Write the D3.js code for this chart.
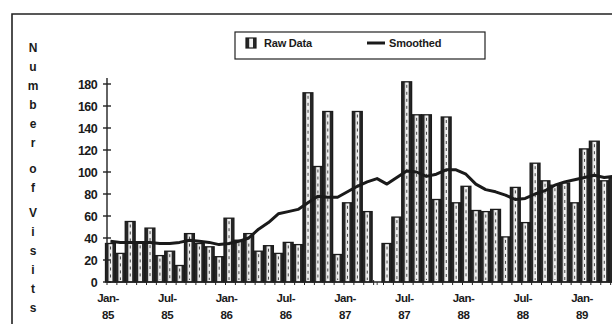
<!DOCTYPE html>
<html>
<head>
<meta charset="utf-8">
<script src="https://cdn.jsdelivr.net/npm/d3@7"></script>
<style>
  body { margin: 0; background: #fff; }
  svg { display: block; font-family: "Liberation Sans", Arial, sans-serif; font-weight: bold; }
</style>
</head>
<body>
<div id="chart"></div>
<script>
// monthly categories, Jan-85 .. Apr-89
const years = ["85", "86", "87", "88", "89"];
const monthNames = ["Jan", "Feb", "Mar", "Apr", "May", "Jun", "Jul", "Aug", "Sep", "Oct", "Nov", "Dec"];
const months = [];
years.forEach(y => monthNames.forEach(m => months.push(m + "-" + y)));
months.splice(52);

// raw visit counts
const rawData = [
  35, 26, 55, 36, 49, 24, 28, 15, 44, 35, 32, 23,
  58, 38, 44, 28, 33, 26, 36, 34, 172, 105, 155, 25,
  72, 155, 64, 0, 35, 59, 182, 152, 152, 75, 150, 72,
  87, 65, 64, 66, 41, 86, 54, 108, 92, 88, 90, 72,
  121, 128, 92, 95
];

// smoothed series
const smoothed = [
  37, 36, 36, 36, 36, 35, 35, 36, 38, 37, 36, 34,
  35, 37, 40, 48, 54, 62, 64, 66, 72, 78, 77, 77,
  82, 87, 91, 94, 89, 95, 101, 100, 96, 98, 102, 102,
  98, 89, 84, 82, 79, 75, 76, 80, 83, 88, 91, 93,
  95, 97, 95, 96
];

const tickMonths = ["Jan-85", "Jul-85", "Jan-86", "Jul-86", "Jan-87", "Jul-87", "Jan-88", "Jul-88", "Jan-89"];
const yTicks = [0, 20, 40, 60, 80, 100, 120, 140, 160, 180];
const yTitle = "Number of Visits";

const width = 612, height = 324;

const svg = d3.select("#chart").append("svg")
  .attr("width", width)
  .attr("height", height);

// bar fill: dark sides, white middle strip with a dashed line
const defs = svg.append("defs");
const pat = defs.append("pattern")
  .attr("id", "rawFill")
  .attr("patternUnits", "objectBoundingBox")
  .attr("patternContentUnits", "objectBoundingBox")
  .attr("width", 1).attr("height", 1);
pat.append("rect").attr("width", 1).attr("height", 1).attr("fill", "#262626");
pat.append("rect").attr("x", 0.32).attr("width", 0.38).attr("height", 1).attr("fill", "#f2f2f2");

// frame
svg.append("path")
  .attr("d", "M12,324V14H612")
  .attr("fill", "none")
  .attr("stroke", "#222")
  .attr("stroke-width", 1.6);

const x = d3.scaleBand()
  .domain(months)
  .range([107, 107 + 9.875 * months.length])
  .padding(0);

const y = d3.scaleLinear()
  .domain([0, 180])
  .range([282, 84]);

// bars
const bars = svg.append("g");
bars.selectAll("rect")
  .data(months)
  .enter()
  .append("rect")
  .attr("x", d => x(d) - 1.5)
  .attr("y", (d, i) => y(rawData[i]))
  .attr("width", x.bandwidth())
  .attr("height", (d, i) => y(0) - y(rawData[i]))
  .attr("fill", "url(#rawFill)")
  .attr("stroke", "#1a1a1a")
  .attr("stroke-width", 1.3);

// dashes inside the white strip
bars.selectAll("line")
  .data(months)
  .enter()
  .append("line")
  .attr("x1", d => x(d) - 1.5 + x.bandwidth() * 0.51)
  .attr("x2", d => x(d) - 1.5 + x.bandwidth() * 0.51)
  .attr("y1", (d, i) => y(rawData[i]) + 3)
  .attr("y2", y(0) - 2)
  .attr("stroke", "#444")
  .attr("stroke-width", 1)
  .attr("stroke-dasharray", "3,4");

// smoothed line
const line = d3.line()
  .x((d, i) => x(months[i]) - 1.5 + x.bandwidth() / 2)
  .y(d => y(d))
  .curve(d3.curveLinear);

svg.append("path")
  .datum(smoothed)
  .attr("d", line)
  .attr("fill", "none")
  .attr("stroke", "#1a1a1a")
  .attr("stroke-width", 3)
  .attr("stroke-linejoin", "round");

// y axis
const yAxis = svg.append("g");
yAxis.append("line")
  .attr("x1", 107).attr("x2", 107)
  .attr("y1", y(0)).attr("y2", 78)
  .attr("stroke", "#222").attr("stroke-width", 1.4);
yAxis.selectAll(".yt")
  .data(yTicks)
  .enter()
  .append("line")
  .attr("x1", 103).attr("x2", 111)
  .attr("y1", d => y(d)).attr("y2", d => y(d))
  .attr("stroke", "#222").attr("stroke-width", 1.4);
yAxis.selectAll("text")
  .data(yTicks)
  .enter()
  .append("text")
  .attr("x", 97)
  .attr("y", d => y(d))
  .attr("dy", "0.36em")
  .attr("text-anchor", "end")
  .attr("font-size", 12.5)
  .attr("letter-spacing", -0.6)
  .attr("fill", "#1a1a1a")
  .text(d => d);

// x axis
const xAxis = svg.append("g");
xAxis.append("line")
  .attr("x1", 107).attr("x2", width)
  .attr("y1", y(0)).attr("y2", y(0))
  .attr("stroke", "#222").attr("stroke-width", 1.4);
xAxis.selectAll(".xt")
  .data(months)
  .enter()
  .append("line")
  .attr("x1", d => x(d)).attr("x2", d => x(d))
  .attr("y1", y(0) - 2).attr("y2", y(0) + 3)
  .attr("stroke", "#222").attr("stroke-width", 1);
const xl = xAxis.selectAll("text")
  .data(tickMonths)
  .enter()
  .append("text")
  .attr("text-anchor", "middle")
  .attr("font-size", 11.5)
  .attr("letter-spacing", -0.5)
  .attr("fill", "#1a1a1a");
xl.append("tspan")
  .attr("x", d => x(d) + 1)
  .attr("y", 302)
  .text(d => d.split("-")[0] + "-");
xl.append("tspan")
  .attr("x", d => x(d) + 1)
  .attr("y", 319)
  .text(d => d.split("-")[1]);

// stacked y title
let ty = 48;
const titleG = svg.append("g");
yTitle.split("").forEach(ch => {
  if (ch === " ") { ty += 6.5; return; }
  titleG.append("text")
    .attr("x", 33)
    .attr("y", ty)
    .attr("dy", "0.36em")
    .attr("text-anchor", "middle")
    .attr("font-size", 12)
    .attr("fill", "#1a1a1a")
    .text(ch);
  ty += 19;
});

// legend
const leg = svg.append("g");
leg.append("rect")
  .attr("x", 235).attr("y", 32)
  .attr("width", 250).attr("height", 27)
  .attr("fill", "#fff")
  .attr("stroke", "#222").attr("stroke-width", 1.2);
leg.append("rect")
  .attr("x", 246).attr("y", 38)
  .attr("width", 10).attr("height", 10)
  .attr("fill", "url(#rawFill)")
  .attr("stroke", "#1a1a1a").attr("stroke-width", 1.2);
leg.append("text")
  .attr("x", 264).attr("y", 43)
  .attr("dy", "0.36em")
  .attr("font-size", 11)
  .attr("letter-spacing", -0.2)
  .attr("fill", "#1a1a1a")
  .text("Raw Data");
leg.append("line")
  .attr("x1", 367).attr("x2", 385)
  .attr("y1", 43).attr("y2", 43)
  .attr("stroke", "#1a1a1a").attr("stroke-width", 3);
leg.append("text")
  .attr("x", 389).attr("y", 43)
  .attr("dy", "0.36em")
  .attr("font-size", 11)
  .attr("letter-spacing", -0.2)
  .attr("fill", "#1a1a1a")
  .text("Smoothed");
</script>
</body>
</html>
